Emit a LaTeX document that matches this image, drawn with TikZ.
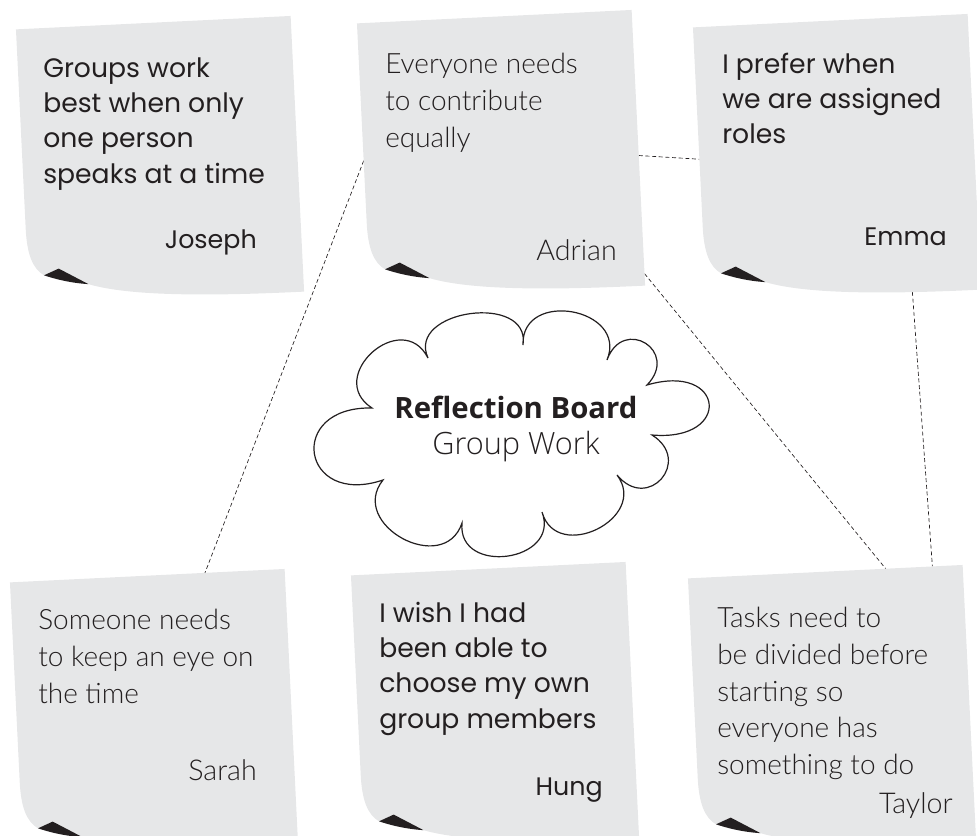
\documentclass[tikz,border=0pt]{standalone}
\usepackage{fontspec}
\usetikzlibrary{calc}

\newfontfamily\kidfont{Poppins}
\IfFontExistsTF{Lato Light}{\newfontfamily\thinfont{Lato Light}}{\newfontfamily\thinfont{Lato}}
\newfontfamily\boardfont{Open Sans}
\IfFontExistsTF{Open Sans Light}{\newfontfamily\boardlight{Open Sans Light}}{\newfontfamily\boardlight{Open Sans}}

\definecolor{notegrey}{RGB}{230,231,232}
\definecolor{ink}{RGB}{35,31,32}

\tikzset{
  notebox/.style={minimum width=206.25pt, minimum height=206.25pt, inner sep=0pt, outer sep=0pt, rotate=2.8},
  paper/.style={fill=notegrey},
  curl/.style={fill=ink},
  link/.style={densely dashed, line width=0.5pt, draw=ink},
  cloudline/.style={draw=ink, line width=0.9pt, fill=white},
  kidtext/.style={anchor=north west, inner sep=0pt, align=left, text=ink, font=\kidfont\fontsize{20}{26.5}\selectfont},
  thintext/.style={anchor=north west, inner sep=0pt, align=left, text=ink, font=\thinfont\fontsize{21}{27.5}\selectfont},
  kidname/.style={anchor=base east, inner sep=0pt, text=ink, font=\kidfont\fontsize{19}{26.5}\selectfont},
  thinname/.style={anchor=base east, inner sep=0pt, text=ink, font=\thinfont\fontsize{21.5}{27.5}\selectfont},
}

\begin{document}
\begin{tikzpicture}[x=0.75pt,y=0.75pt,yscale=-1,xscale=1]
\useasboundingbox (0,0) rectangle (977,835);
\clip (0,0) rectangle (977,835);

%Shape: Note frames
\node [notebox] (joseph) at (160,160) {};
\node [notebox] (adrian) at (501,154) {};
\node [notebox] (emma) at (837,158) {};
\node [notebox] (sarah) at (154,713) {};
\node [notebox] (hung) at (495,706) {};
\node [notebox] (taylor) at (832,709) {};

%Dashed links
\draw [link] (adrian.west) -- ($(sarah.north west)!0.71!(sarah.north east)$) ;
\draw [link] ($(adrian.north east)!0.53!(adrian.south east)$) -- ($(emma.north west)!0.48!(emma.south west)$) ;
\draw [link] ($(adrian.north east)!0.96!(adrian.south east)$) -- ($(taylor.north west)!0.72!(taylor.north east)$) ;
\draw [link] ($(emma.south west)!0.75!(emma.south east)$) -- ($(taylor.north west)!0.89!(taylor.north east)$) ;

%Shape: Sticky paper with curled corner
\foreach \n in {joseph,adrian,emma,sarah,hung,taylor}{
  \begin{scope}[shift={(\n.north west)}, rotate=-2.8]
    \fill [paper] (0,0) -- (275,0) -- (275,276) .. controls (180,276) and (100,272) .. (60,258) -- (31,241) -- (16,247) .. controls (5,240) and (0,225) .. (0,200) -- cycle ;
    \fill [curl] (16,247) -- (31,241) -- (60,258) .. controls (42,256) and (26,251) .. (16,247) -- cycle ;
  \end{scope}
}

%Shape: Cloud
\draw [cloudline] (372,408) .. controls (324,377) and (402,307) .. (428,358)
  .. controls (406,309.5) and (531,292.5) .. (523,345)
  .. controls (521,288.7) and (628.5,308) .. (607,360)
  .. controls (623,315.7) and (680,351) .. (647,385)
  .. controls (725,362) and (733,442) .. (652,435)
  .. controls (693,460.6) and (648,512.6) .. (617,475)
  .. controls (649.5,518) and (556.5,564) .. (542,512)
  .. controls (561,562) and (457,576) .. (462,523)
  .. controls (444,577) and (347.4,524.4) .. (383,480)
  .. controls (301,507.6) and (285.6,406) .. (372,408) -- cycle ;

% Text Node
\node [anchor=north, inner sep=0pt, align=center, text=ink] (board) at (516,391) {\boardfont\bfseries\fontsize{22}{29}\selectfont\strut Reflection Board\\ \boardlight\fontsize{23}{29}\selectfont Group Work};

% Text Node
\node [kidtext] (josephmsg) at (43,52) {\strut Groups work\\best when only\\one person\\speaks at a time};
\node [kidname] (josephname) at (257,248) {Joseph};
% Text Node
\node [thintext] (adrianmsg) at (385,48) {\strut Everyone needs\\to contribute\\equally};
\node [thinname] (adrianname) at (617,260) {Adrian};
% Text Node
\node [kidtext] (emmamsg) at (722,48) {\strut I prefer when\\we are assigned\\roles};
\node [kidname] (emmaname) at (947,245) {Emma};
% Text Node
\node [thintext] (sarahmsg) at (38,604) {\strut Someone needs\\to keep an eye on\\the time};
\node [thinname] (sarahname) at (257,780) {Sarah};
% Text Node
\node [kidtext] (hungmsg) at (379,597) {\strut I wish I had\\been able to\\choose my own\\group members};
\node [kidname] (hungname) at (603,795) {Hung};
% Text Node
\node [thintext] (taylormsg) at (717,602) {\strut Tasks need to\\be divided before\\starting so\\everyone has\\something to do};
\node [thinname] (taylorname) at (953,813) {Taylor};

\end{tikzpicture}
\end{document}
